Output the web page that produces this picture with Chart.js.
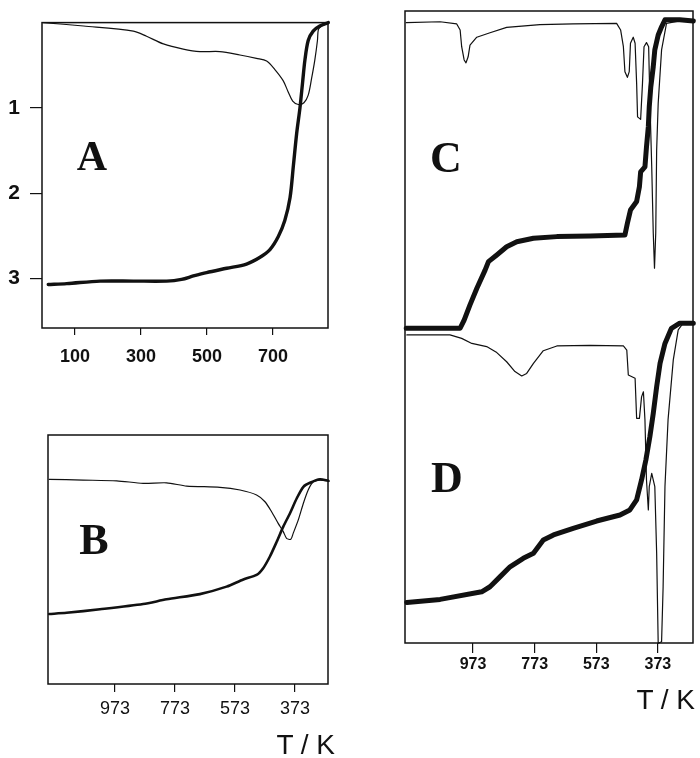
<!DOCTYPE html>
<html>
<head>
<meta charset="utf-8">
<script src="https://cdn.jsdelivr.net/npm/chart.js@4.4.1/dist/chart.umd.min.js"></script>
<style>
  html, body { margin: 0; padding: 0; background: #fff; }
  #wrap { position: relative; width: 700px; height: 758px; overflow: hidden; }
  canvas { position: absolute; left: 0; top: 0; }
  .lbl { position: absolute; font: bold 44px "Liberation Serif", "Times New Roman", serif; line-height: 1; color: #111; transform: translate(-50%, -50%); }
  .ttl { position: absolute; font: 28px "Liberation Sans", Arial, sans-serif; line-height: 28px; color: #111; white-space: pre; }
</style>
</head>
<body>
<div id="wrap">
  <canvas id="cA" width="700" height="758"></canvas>
  <canvas id="cB" width="700" height="758"></canvas>
  <canvas id="cCD" width="700" height="758"></canvas>
  <div class="lbl" style="left:92px;top:156px;font-size:42px">A</div>
  <div class="lbl" style="left:94px;top:540px">B</div>
  <div class="lbl" style="left:446px;top:158px">C</div>
  <div class="lbl" style="left:447px;top:478px">D</div>
  <div class="ttl" id="tB" style="right:365px;top:731px"></div>
  <div class="ttl" id="tD" style="right:5px;top:686px"></div>
</div>
<script>
// ---------- Tick labels ----------
const ticksA_x = [100, 300, 500, 700];
const ticksA_y = [1, 2, 3];
const ticksK = [973, 773, 573, 373];
const axisTitle = 'T / K';

// ---------- Panel A (x: 0..867, y: reversed 0..3.58) ----------
const A_thick_T = [19, 75, 176, 277, 378, 423, 459, 499, 560, 620, 661, 691, 716, 736, 752, 762, 772, 782, 790, 797, 807, 822, 842, 868];
const A_thick_v = [3.07, 3.06, 3.03, 3.03, 3.03, 3.01, 2.97, 2.93, 2.88, 2.83, 2.75, 2.66, 2.51, 2.32, 2.05, 1.68, 1.30, 1.00, 0.70, 0.44, 0.21, 0.10, 0.04, 0.0];
const A_thin_T = [4, 126, 277, 317, 368, 428, 479, 539, 600, 650, 681, 706, 731, 746, 760, 777, 794, 807, 817, 827, 835, 838, 848, 868];
const A_thin_v = [0, 0.04, 0.10, 0.16, 0.25, 0.31, 0.34, 0.34, 0.38, 0.42, 0.45, 0.55, 0.68, 0.81, 0.92, 0.96, 0.94, 0.85, 0.66, 0.44, 0.21, 0.08, 0.04, 0];

// ---------- Panel B (x: reversed, y: arbitrary 0..100) ----------
const B_thin_T = [1192, 1079, 967, 879, 801, 734, 623, 556, 501, 473, 451, 429, 412, 401, 387, 379, 362, 345, 329, 312, 290, 259];
const B_thin_v = [82.2, 81.9, 81.6, 80.6, 80.8, 79.5, 79.0, 77.9, 75.9, 73.2, 69.2, 64.5, 61.2, 58.5, 58.1, 60.5, 65.9, 72.6, 77.9, 81.2, 81.9, 81.5];
const B_thick_T = [1192, 1134, 1023, 879, 801, 690, 601, 545, 501, 479, 457, 434, 412, 390, 367, 345, 323, 290, 262];
const B_thick_v = [28.1, 28.6, 30.0, 32.1, 34.0, 36.1, 39.1, 42.0, 43.8, 46.5, 51.1, 57.1, 63.2, 68.5, 74.6, 79.2, 80.8, 82.2, 81.6];

// ---------- Panel C (upper half of right frame) ----------
const C_thin_T = [1190, 1080, 1026, 1015, 1010, 1002, 996, 989, 983, 961, 918, 864, 756, 648, 507, 494, 485, 480, 472, 466, 462, 453, 447, 442, 439, 429, 423, 418, 410, 403, 399, 393, 388, 384, 380, 377, 372, 361, 345, 302, 258];
const C_thin_v = [96.3, 96.6, 95.9, 94.0, 88.7, 84.5, 83.6, 85.5, 89.2, 91.7, 93.1, 94.8, 95.7, 95.9, 96.1, 94.0, 88.7, 80.8, 79.0, 80.8, 89.8, 91.7, 89.8, 77.1, 66.5, 65.7, 77.1, 88.7, 90.0, 88.7, 71.8, 50.7, 29.7, 18.6, 29.7, 56.0, 70.8, 87.7, 96.1, 96.9, 96.9];
const C_thick_T = [1190, 1015, 1002, 983, 961, 934, 923, 896, 864, 831, 777, 701, 593, 480, 472, 462, 442, 433, 429, 415, 410, 404, 401, 396, 388, 383, 372, 361, 350, 302, 258];
const C_thick_v = [-0.4, -0.4, 2.2, 7.0, 12.2, 18.0, 20.7, 22.8, 25.4, 27.0, 28.1, 28.6, 28.8, 29.1, 32.8, 37.0, 39.7, 44.4, 49.1, 50.7, 57.0, 63.4, 69.7, 76.0, 82.4, 87.7, 92.4, 95.0, 97.2, 97.2, 96.8];

// ---------- Panel D (lower half of right frame) ----------
const D_thin_T = [1188, 1048, 1010, 977, 929, 896, 864, 837, 815, 799, 777, 745, 701, 593, 485, 474, 469, 447, 442, 433, 426, 420, 415, 410, 404, 401, 393, 383, 377, 372, 361, 356, 350, 340, 323, 307, 291, 258];
const D_thin_v = [97.5, 97.5, 96.4, 94.8, 93.8, 91.9, 89.0, 85.9, 84.5, 85.3, 88.5, 92.5, 94.0, 94.2, 94.0, 92.7, 84.8, 83.8, 71.1, 71.1, 77.9, 79.5, 70.6, 51.6, 42.1, 49.5, 53.7, 49.5, 28.4, -0.1, 0.4, 17.8, 49.5, 70.6, 89.6, 99.1, 101.2, 101.2];
const D_thick_T = [1188, 1080, 945, 918, 885, 853, 810, 777, 745, 712, 648, 572, 496, 464, 442, 426, 412, 399, 388, 377, 366, 350, 329, 302, 258];
const D_thick_v = [12.8, 13.8, 16.2, 17.8, 21.0, 24.1, 26.8, 28.4, 32.6, 34.2, 36.3, 38.6, 40.5, 42.1, 45.3, 51.6, 57.9, 65.3, 72.7, 81.1, 88.5, 94.8, 99.6, 101.2, 101.2];

// ---------- helpers ----------
const INK = '#111';
const FONT = '"Liberation Sans", Arial, sans-serif';
document.getElementById('tB').textContent = axisTitle;
document.getElementById('tD').textContent = axisTitle;
const zip = (xs, ys) => xs.map((x, i) => ({ x: x, y: ys[i] }));
const framePlugin = {
  id: 'frame',
  afterDraw(chart) {
    const { ctx, chartArea: a } = chart;
    ctx.save();
    ctx.strokeStyle = INK;
    ctx.lineWidth = 1.5;
    ctx.strokeRect(a.left, a.top, a.right - a.left, a.bottom - a.top);
    ctx.restore();
  }
};
const line = (data, width, yAxisID, tension) => ({
  data: data, showLine: true, borderColor: INK, borderWidth: width,
  pointRadius: 0, tension: tension || 0, clip: false, yAxisID: yAxisID || 'y',
  borderJoinStyle: 'round', borderCapStyle: 'round'
});
const fixTicks = (vals) => (s) => { s.ticks = vals.map(v => ({ value: v })); };
const baseOpts = {
  responsive: false, animation: false, devicePixelRatio: 1,
  plugins: { legend: { display: false }, tooltip: { enabled: false } },
  events: []
};

// ---------- Chart A ----------
new Chart(document.getElementById('cA'), {
  type: 'scatter',
  data: { datasets: [ line(zip(A_thin_T, A_thin_v), 1.2, 'y', 0.3), line(zip(A_thick_T, A_thick_v), 3.4, 'y', 0.3) ] },
  options: Object.assign({}, baseOpts, {
    layout: { padding: { left: 0, top: 11, right: 372, bottom: 390 } },
    scales: {
      x: {
        type: 'linear', min: 0, max: 867,
        afterBuildTicks: fixTicks(ticksA_x),
        afterFit: s => { s.height = 40; },
        border: { display: false },
        grid: { drawOnChartArea: false, drawTicks: true, tickLength: 7, color: INK, lineWidth: 1.2 },
        ticks: { color: INK, padding: 11, font: { family: FONT, size: 18, weight: 'bold' } }
      },
      y: {
        type: 'linear', min: 0, max: 3.58, reverse: true,
        afterBuildTicks: fixTicks(ticksA_y),
        afterFit: s => { s.width = 42; },
        border: { display: false },
        grid: { drawOnChartArea: false, drawTicks: true, tickLength: 12, color: INK, lineWidth: 1.2 },
        ticks: { color: INK, padding: 10, font: { family: FONT, size: 21, weight: 'bold' } }
      }
    }
  }),
  plugins: [framePlugin]
});

// ---------- Chart B ----------
new Chart(document.getElementById('cB'), {
  type: 'scatter',
  data: { datasets: [ line(zip(B_thin_T, B_thin_v), 1.2, 'y', 0.25), line(zip(B_thick_T, B_thick_v), 2.6, 'y', 0.25) ] },
  options: Object.assign({}, baseOpts, {
    layout: { padding: { left: 48, top: 435, right: 372, bottom: 0 } },
    scales: {
      x: {
        type: 'linear', min: 263, max: 1196, reverse: true,
        afterBuildTicks: fixTicks(ticksK),
        afterFit: s => { s.height = 74; },
        border: { display: false },
        grid: { drawOnChartArea: false, drawTicks: true, tickLength: 8, color: INK, lineWidth: 1.2 },
        ticks: { color: INK, padding: 6, font: { family: FONT, size: 18 } }
      },
      y: { type: 'linear', min: 0, max: 100, display: false }
    }
  }),
  plugins: [framePlugin]
});

// ---------- Chart C + D (one frame, two stacked y scales; left stack is laid out last-first) ----------
new Chart(document.getElementById('cCD'), {
  type: 'scatter',
  data: { datasets: [
    line(zip(C_thin_T, C_thin_v), 1.2, 'yC'),
    line(zip(C_thick_T, C_thick_v), 5, 'yC'),
    line(zip(D_thin_T, D_thin_v), 1.2, 'yD'),
    line(zip(D_thick_T, D_thick_v), 5, 'yD')
  ] },
  options: Object.assign({}, baseOpts, {
    layout: { padding: { left: 405, top: 11, right: 7, bottom: 44 } },
    scales: {
      x: {
        type: 'linear', min: 259, max: 1194, reverse: true,
        afterBuildTicks: fixTicks(ticksK),
        afterFit: s => { s.height = 71; },
        border: { display: false },
        grid: { drawOnChartArea: false, drawTicks: true, tickLength: 10, color: INK, lineWidth: 1.2 },
        ticks: { color: INK, padding: 2, font: { family: FONT, size: 16, weight: 'bold' } }
      },
      yD: { type: 'linear', position: 'left', stack: 'cd', stackWeight: 1, min: 0, max: 100, display: false },
      yC: { type: 'linear', position: 'left', stack: 'cd', stackWeight: 1, min: 0, max: 100, display: false }
    }
  }),
  plugins: [framePlugin]
});
</script>
</body>
</html>
